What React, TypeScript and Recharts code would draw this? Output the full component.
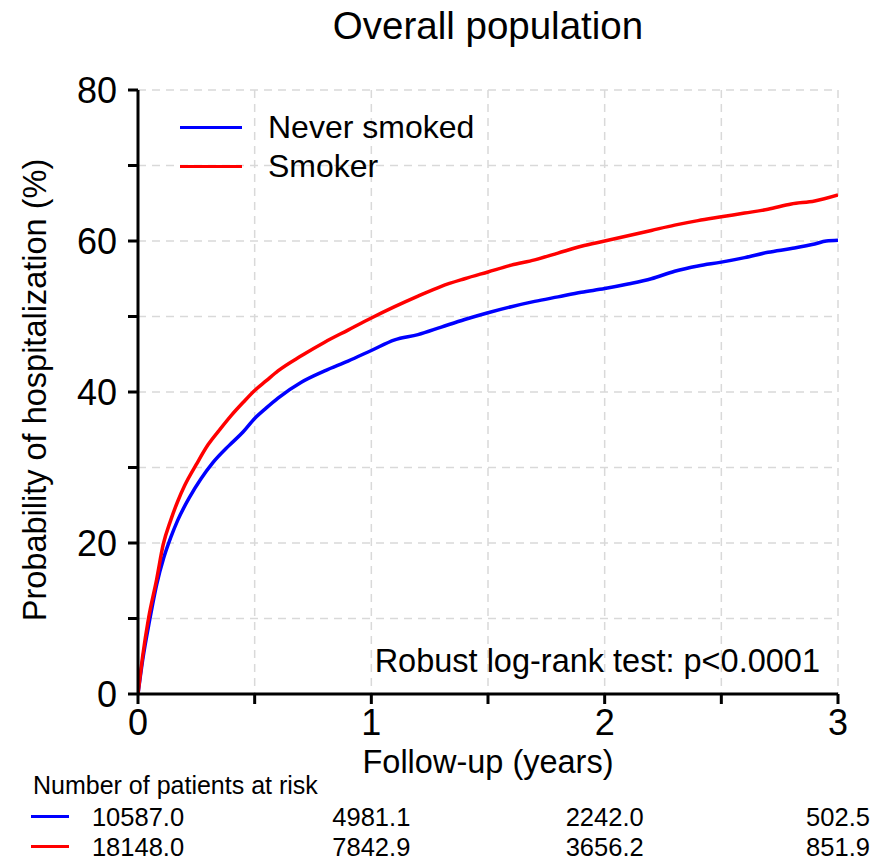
import { CartesianGrid, Legend, Line, LineChart, XAxis, YAxis } from "recharts";

// Kaplan-Meier style cumulative hospitalization (%)
const neverSmoked = [
  { t: 0, p: 0 }, { t: 0.02, p: 4.5 }, { t: 0.05, p: 9.8 }, { t: 0.08, p: 14.5 },
  { t: 0.11, p: 18 }, { t: 0.14, p: 20.7 }, { t: 0.17, p: 23 }, { t: 0.22, p: 26 },
  { t: 0.27, p: 28.5 }, { t: 0.32, p: 30.6 }, { t: 0.39, p: 32.9 }, { t: 0.45, p: 34.7 },
  { t: 0.5, p: 36.5 }, { t: 0.55, p: 37.9 }, { t: 0.6, p: 39.2 }, { t: 0.7, p: 41.3 },
  { t: 0.8, p: 42.8 }, { t: 0.9, p: 44.1 }, { t: 1.0, p: 45.5 }, { t: 1.1, p: 46.9 },
  { t: 1.2, p: 47.6 }, { t: 1.3, p: 48.6 }, { t: 1.4, p: 49.6 }, { t: 1.5, p: 50.5 },
  { t: 1.6, p: 51.3 }, { t: 1.7, p: 52.0 }, { t: 1.8, p: 52.6 }, { t: 1.9, p: 53.2 },
  { t: 2.0, p: 53.7 }, { t: 2.1, p: 54.3 }, { t: 2.2, p: 55.0 }, { t: 2.3, p: 56.0 },
  { t: 2.4, p: 56.7 }, { t: 2.5, p: 57.2 }, { t: 2.6, p: 57.8 }, { t: 2.7, p: 58.5 },
  { t: 2.8, p: 59.0 }, { t: 2.9, p: 59.6 }, { t: 2.95, p: 60.0 }, { t: 3.0, p: 60.1 },
];

const smoker = [
  { t: 0, p: 0 }, { t: 0.02, p: 5.0 }, { t: 0.045, p: 10 }, { t: 0.08, p: 15.2 },
  { t: 0.108, p: 19.8 }, { t: 0.14, p: 23.0 }, { t: 0.17, p: 25.5 }, { t: 0.2, p: 27.6 },
  { t: 0.25, p: 30.4 }, { t: 0.3, p: 33.0 }, { t: 0.35, p: 35.0 }, { t: 0.4, p: 36.9 },
  { t: 0.45, p: 38.6 }, { t: 0.5, p: 40.2 }, { t: 0.55, p: 41.5 }, { t: 0.6, p: 42.8 },
  { t: 0.7, p: 44.8 }, { t: 0.8, p: 46.6 }, { t: 0.9, p: 48.2 }, { t: 1.0, p: 49.8 },
  { t: 1.1, p: 51.3 }, { t: 1.2, p: 52.7 }, { t: 1.3, p: 54.0 }, { t: 1.4, p: 55.0 },
  { t: 1.5, p: 55.9 }, { t: 1.6, p: 56.8 }, { t: 1.7, p: 57.5 }, { t: 1.8, p: 58.4 },
  { t: 1.9, p: 59.3 }, { t: 2.0, p: 60.0 }, { t: 2.1, p: 60.7 }, { t: 2.2, p: 61.4 },
  { t: 2.3, p: 62.1 }, { t: 2.4, p: 62.7 }, { t: 2.5, p: 63.2 }, { t: 2.6, p: 63.7 },
  { t: 2.7, p: 64.2 }, { t: 2.8, p: 64.9 }, { t: 2.9, p: 65.3 }, { t: 3.0, p: 66.1 },
];

const xTicks = [0, 0.5, 1, 1.5, 2, 2.5, 3];
const yTicks = [0, 10, 20, 30, 40, 50, 60, 70, 80];

const riskTimes = [0, 1, 2, 3];
const riskNever = ["10587.0", "4981.1", "2242.0", "502.5"];
const riskSmoker = ["18148.0", "7842.9", "3656.2", "851.9"];

const seriesNames = ["Never smoked", "Smoker"];
const BLUE = "#0000ff";
const RED = "#ff0000";

const FONT = '"Liberation Sans", Arial, sans-serif';
const W = 877;
const H = 864;
const PLOT_LEFT = 138;
const PLOT_RIGHT = 838;
const PLOT_TOP = 90;
const PLOT_BOTTOM = 694;
const Y_AXIS_W = 60;
const X_AXIS_H = 50;

const xPos = (t: number) => PLOT_LEFT + (t / 3) * (PLOT_RIGHT - PLOT_LEFT);
const axisStroke = { stroke: "#000", strokeWidth: 3 };

function LegendBox() {
  const colors = [BLUE, RED];
  return (
    <div style={{ fontFamily: FONT, fontSize: 32, color: "#000" }}>
      {seriesNames.map((name, i) => (
        <div key={name} style={{ display: "flex", alignItems: "center", height: 39 }}>
          <span style={{ width: 62, height: 3, background: colors[i], display: "inline-block", marginRight: 26 }} />
          <span>{name}</span>
        </div>
      ))}
    </div>
  );
}

function RiskRow({ values, color, mid }: { values: string[]; color: string; mid: number }) {
  return (
    <>
      <span style={{ position: "absolute", left: 31, top: mid - 2, width: 38, height: 3, background: color }} />
      {values.map((v, i) => (
        <span
          key={i}
          style={{
            position: "absolute",
            left: xPos(riskTimes[i]),
            top: mid - 15,
            transform: "translateX(-50%)",
            fontSize: 25.5,
            lineHeight: "30px",
            whiteSpace: "nowrap",
          }}
        >
          {v}
        </span>
      ))}
    </>
  );
}

export default function App() {
  return (
    <div style={{ position: "absolute", left: 0, top: 0, width: W, height: H, background: "#fff", fontFamily: FONT, color: "#000" }}>
      <LineChart
        width={W}
        height={H}
        margin={{ top: PLOT_TOP, right: W - PLOT_RIGHT, left: PLOT_LEFT - Y_AXIS_W, bottom: H - PLOT_BOTTOM - X_AXIS_H }}
      >
        <CartesianGrid stroke="#d9d9d9" strokeWidth={1.5} strokeDasharray="8 6" />
        <XAxis
          type="number"
          dataKey="t"
          domain={[0, 3]}
          ticks={xTicks}
          height={X_AXIS_H}
          axisLine={axisStroke}
          tickLine={axisStroke}
          tickSize={10}
          tickMargin={5}
          tick={{ fill: "#000", fontSize: 36, fontFamily: FONT }}
          tickFormatter={(v: number) => (Number.isInteger(v) ? String(v) : "")}
          allowDataOverflow
        />
        <YAxis
          type="number"
          domain={[0, 80]}
          ticks={yTicks}
          width={Y_AXIS_W}
          axisLine={axisStroke}
          tickLine={axisStroke}
          tickSize={10}
          tickMargin={11}
          tick={{ fill: "#000", fontSize: 36, fontFamily: FONT }}
          tickFormatter={(v: number) => (v % 20 === 0 ? String(v) : "")}
          allowDataOverflow
        />
        <Legend
          layout="vertical"
          align="center"
          verticalAlign="middle"
          wrapperStyle={{ left: 180, top: 108, width: 320 }}
          content={() => <LegendBox />}
        />
        <Line data={neverSmoked} dataKey="p" name={seriesNames[0]} type="monotone" stroke={BLUE} strokeWidth={3.5} dot={false} isAnimationActive={false} />
        <Line data={smoker} dataKey="p" name={seriesNames[1]} type="monotone" stroke={RED} strokeWidth={3.5} dot={false} isAnimationActive={false} />
      </LineChart>

      <div style={{ position: "absolute", left: PLOT_LEFT, width: PLOT_RIGHT - PLOT_LEFT, top: 4, textAlign: "center", fontSize: 38.5, whiteSpace: "nowrap" }}>
        Overall population
      </div>
      <div
        style={{
          position: "absolute",
          left: 35,
          top: 390,
          transform: "translate(-50%, -50%) rotate(-90deg)",
          whiteSpace: "nowrap",
          fontSize: 32.5,
        }}
      >
        Probability of hospitalization (%)
      </div>
      <div style={{ position: "absolute", left: PLOT_LEFT, width: PLOT_RIGHT - PLOT_LEFT, top: 744, textAlign: "center", fontSize: 32.5 }}>
        Follow-up (years)
      </div>
      <div style={{ position: "absolute", right: W - 820, top: 643, fontSize: 32.5, whiteSpace: "nowrap" }}>
        Robust log-rank test: p&lt;0.0001
      </div>
      <div style={{ position: "absolute", left: 33, top: 771, fontSize: 25, whiteSpace: "nowrap" }}>
        Number of patients at risk
      </div>
      <RiskRow values={riskNever} color={BLUE} mid={817} />
      <RiskRow values={riskSmoker} color={RED} mid={847} />
    </div>
  );
}
